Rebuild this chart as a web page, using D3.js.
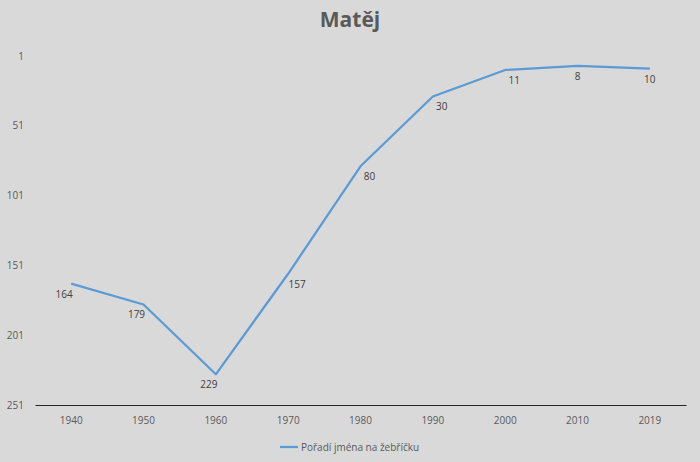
<!DOCTYPE html>
<html>
<head>
<meta charset="utf-8">
<script src="https://cdn.jsdelivr.net/npm/d3@7"></script>
<style>
  html, body { margin: 0; padding: 0; background: #d9d9d9; }
  svg { display: block; font-family: "Open Sans", sans-serif; }
</style>
</head>
<body>
<div id="chart"></div>
<script>
// データ
const years = ["1940", "1950", "1960", "1970", "1980", "1990", "2000", "2010", "2019"];
const ranks = [164, 179, 229, 157, 80, 30, 11, 8, 10];
const yTicks = [1, 51, 101, 151, 201, 251];
const seriesName = "Pořadí jména na žebříčku";
const title = "Matěj";

const width = 700, height = 462;
const margin = { top: 56, right: 14, bottom: 57, left: 35 };

const svg = d3.select("#chart").append("svg")
  .attr("width", width)
  .attr("height", height);

svg.append("rect")
  .attr("width", width).attr("height", height)
  .attr("fill", "#d9d9d9");

// タイトル
svg.append("text")
  .attr("x", width / 2)
  .attr("y", 27)
  .attr("text-anchor", "middle")
  .attr("fill", "#595959")
  .style("font-size", "21px")
  .style("font-weight", "bold")
  .text(title);

const x = d3.scaleBand()
  .domain(years)
  .range([margin.left, width - margin.right]);

// 順位なので上下反転
const y = d3.scaleLinear()
  .domain([1, 251])
  .range([margin.top, height - margin.bottom]);

// Y軸ラベル（線なし）
svg.append("g")
  .selectAll("text")
  .data(yTicks)
  .enter()
  .append("text")
  .attr("x", 24)
  .attr("y", d => y(d))
  .attr("dy", "0.35em")
  .attr("text-anchor", "end")
  .attr("fill", "#595959")
  .style("font-size", "10px")
  .text(d => d);

// X軸
const xAxis = svg.append("g")
  .attr("transform", `translate(0, ${y(251)})`)
  .call(d3.axisBottom(x).tickSize(0).tickPadding(12));
xAxis.select(".domain").attr("stroke", "#262626").attr("stroke-width", 1);
xAxis.selectAll("text")
  .attr("fill", "#595959")
  .style("font-size", "10px")
  .style("font-family", "Open Sans, sans-serif");

// 折れ線
const line = d3.line()
  .x((d, i) => x(years[i]) + x.bandwidth() / 2)
  .y(d => y(d));

svg.append("path")
  .datum(ranks)
  .attr("d", line)
  .attr("fill", "none")
  .attr("stroke", "#5b9bd5")
  .attr("stroke-width", 2.25)
  .attr("stroke-linejoin", "round");

// データラベル：直前の線の向きで左右にずらす
const labelShift = i => {
  const prev = i > 0 ? ranks[i - 1] : ranks[i];
  const diff = i > 0 ? ranks[i] - prev : ranks[i + 1] - ranks[i];
  if (Math.abs(diff) < 5) return 0;
  return diff > 0 ? -7 : 9;
};

svg.append("g")
  .selectAll("text")
  .data(ranks)
  .enter()
  .append("text")
  .attr("x", (d, i) => x(years[i]) + x.bandwidth() / 2 + labelShift(i))
  .attr("y", d => y(d) + 14)
  .attr("text-anchor", "middle")
  .attr("fill", "#404040")
  .style("font-size", "10px")
  .text(d => d);

// 凡例
const legend = svg.append("g").attr("transform", "translate(280, 447)");
legend.append("line")
  .attr("x1", 0).attr("x2", 18)
  .attr("stroke", "#5b9bd5")
  .attr("stroke-width", 2.25);
legend.append("text")
  .attr("x", 21)
  .attr("dy", "0.35em")
  .attr("fill", "#595959")
  .style("font-size", "10px")
  .text(seriesName);
</script>
</body>
</html>
